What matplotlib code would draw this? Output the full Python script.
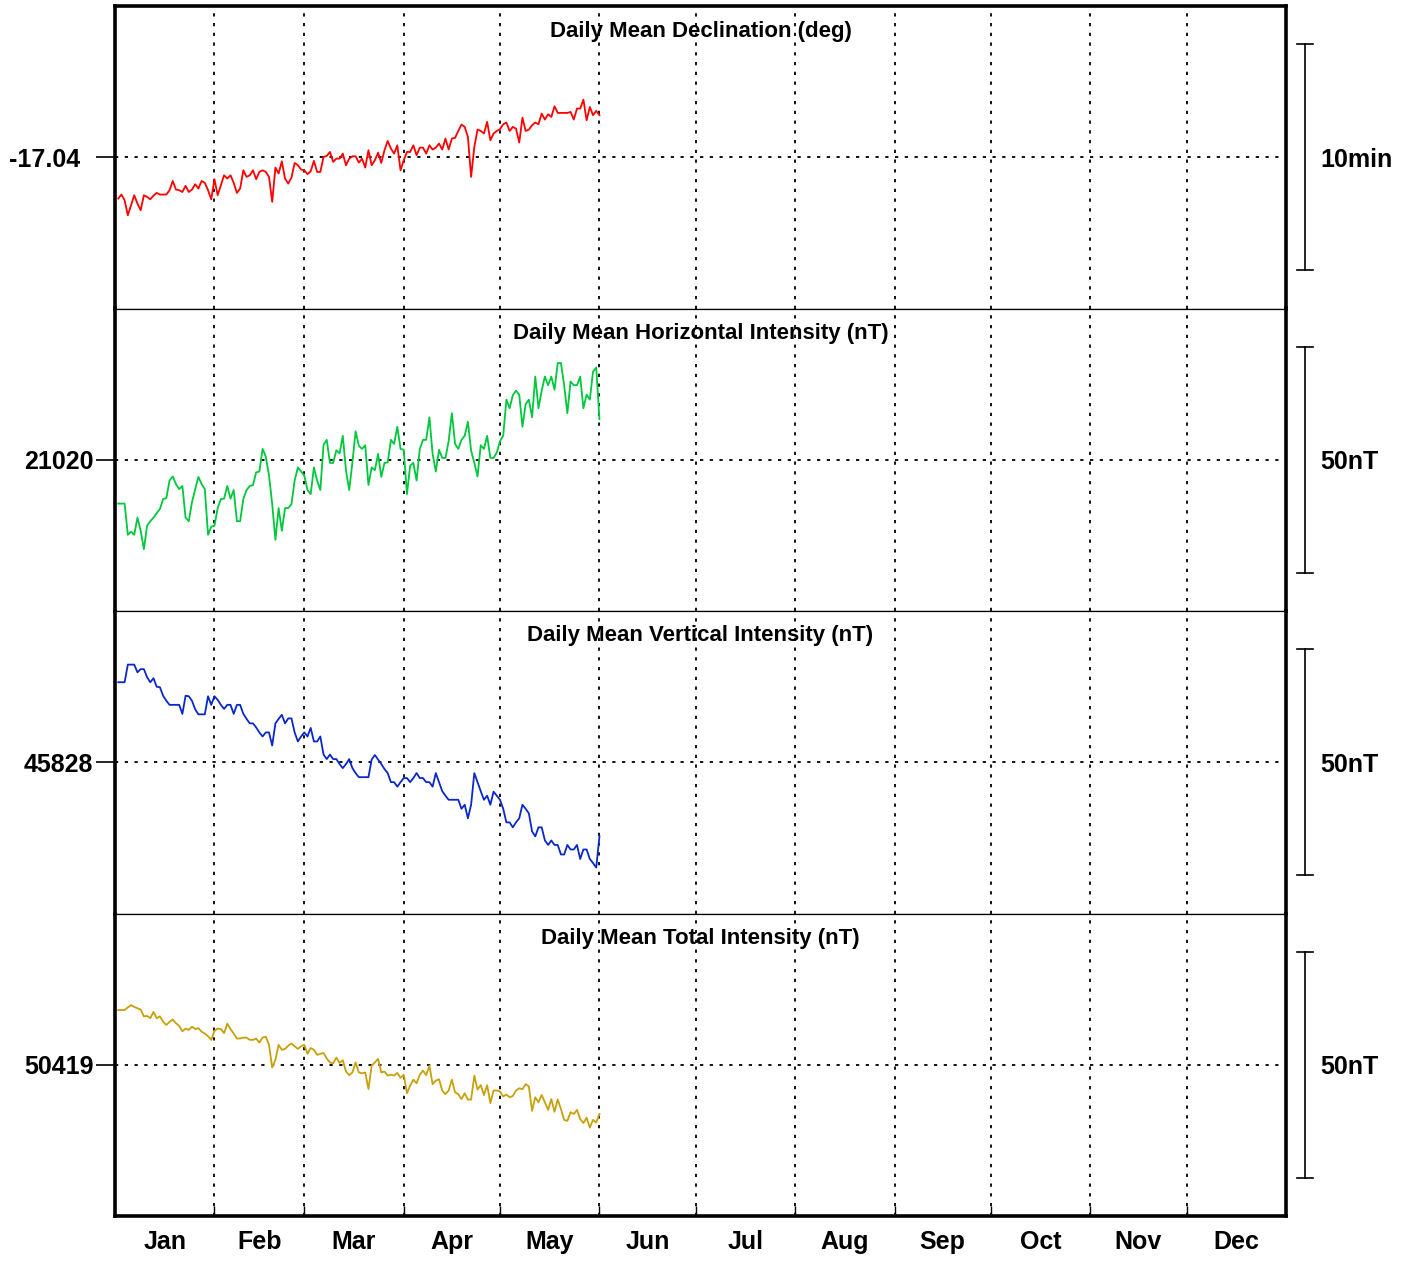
import matplotlib.pyplot as plt
from matplotlib.transforms import blended_transform_factory

plt.rcParams['font.family'] = ['Liberation Sans', 'DejaVu Sans']

# day of year, Jan 1 .. May 31
days = list(range(1, 152))

decl = [-17.0705, -17.0675, -17.0717, -17.0828, -17.0754, -17.0680, -17.0742, -17.0791, -17.0680, -17.0693,
        -17.0710, -17.0683, -17.0663, -17.0675, -17.0675, -17.0675, -17.0643, -17.0575, -17.0638, -17.0643,
        -17.0656, -17.0611, -17.0656, -17.0638, -17.0599, -17.0631, -17.0575, -17.0589, -17.0643, -17.0710,
        -17.0562, -17.0680, -17.0606, -17.0533, -17.0557, -17.0533, -17.0589, -17.0663, -17.0631, -17.0496,
        -17.0545, -17.0533, -17.0496, -17.0562, -17.0508, -17.0496, -17.0508, -17.0545, -17.0729, -17.0476,
        -17.0520, -17.0430, -17.0557, -17.0594, -17.0550, -17.0442, -17.0459, -17.0491, -17.0496, -17.0525,
        -17.0503, -17.0427, -17.0508, -17.0508, -17.0398, -17.0390, -17.0361, -17.0434, -17.0410, -17.0410,
        -17.0373, -17.0459, -17.0410, -17.0393, -17.0393, -17.0439, -17.0410, -17.0476, -17.0348, -17.0459,
        -17.0422, -17.0366, -17.0442, -17.0348, -17.0280, -17.0336, -17.0373, -17.0312, -17.0496, -17.0422,
        -17.0361, -17.0361, -17.0312, -17.0385, -17.0329, -17.0329, -17.0373, -17.0312, -17.0343, -17.0329,
        -17.0299, -17.0343, -17.0262, -17.0343, -17.0262, -17.0257, -17.0206, -17.0159, -17.0176, -17.0250,
        -17.0545, -17.0324, -17.0196, -17.0206, -17.0225, -17.0139, -17.0275, -17.0225, -17.0206, -17.0193,
        -17.0157, -17.0144, -17.0206, -17.0176, -17.0189, -17.0292, -17.0108, -17.0206, -17.0196, -17.0164,
        -17.0144, -17.0157, -17.0078, -17.0122, -17.0083, -17.0103, -17.0024, -17.0073, -17.0073, -17.0073,
        -17.0073, -17.0066, -17.0122, -17.0041, -17.0041, -16.9975, -17.0127, -17.0029, -17.0090, -17.0058,
        -17.0090]

horiz = [21010.3, 21010.3, 21010.3, 21003.4, 21004.1, 21003.4, 21007.2, 21004.3, 21000.2, 21005.4,
         21006.4, 21007.2, 21008.2, 21009.1, 21011.3, 21011.5, 21015.4, 21016.3, 21014.6, 21013.5,
         21014.2, 21007.2, 21006.4, 21010.6, 21013.5, 21016.2, 21014.6, 21013.5, 21003.4, 21005.2,
         21005.4, 21009.3, 21011.3, 21011.4, 21014.2, 21011.4, 21013.3, 21006.4, 21006.4, 21011.3,
         21013.3, 21014.2, 21014.4, 21017.2, 21017.4, 21022.4, 21020.7, 21016.5, 21010.2, 21002.3,
         21009.3, 21004.3, 21009.3, 21009.3, 21010.2, 21015.4, 21018.3, 21017.4, 21016.5, 21013.3,
         21012.4, 21018.3, 21015.4, 21013.3, 21023.3, 21024.4, 21019.3, 21019.3, 21022.1, 21021.4,
         21025.3, 21017.6, 21013.3, 21019.4, 21026.3, 21023.1, 21022.4, 21023.2, 21014.4, 21018.3,
         21017.7, 21021.3, 21016.2, 21019.3, 21019.4, 21024.4, 21023.5, 21027.3, 21022.4, 21022.2,
         21012.4, 21018.7, 21019.3, 21015.4, 21022.4, 21024.4, 21024.4, 21029.4, 21021.3, 21017.4,
         21022.2, 21020.4, 21020.4, 21024.1, 21030.3, 21023.5, 21022.4, 21024.4, 21025.3, 21028.4,
         21022.0, 21019.3, 21016.3, 21023.2, 21022.4, 21025.3, 21020.4, 21020.4, 21021.6, 21024.1,
         21025.3, 21033.3, 21031.4, 21034.3, 21035.3, 21034.4, 21027.3, 21032.3, 21033.3, 21029.4,
         21038.4, 21031.4, 21035.3, 21038.4, 21036.5, 21038.4, 21035.5, 21041.4, 21041.4, 21036.5,
         21030.3, 21037.3, 21036.5, 21036.5, 21038.4, 21031.4, 21034.4, 21033.3, 21039.5, 21040.4,
         21029.0]

vert = [45845.7, 45845.7, 45845.7, 45849.6, 45849.6, 45849.6, 45847.9, 45848.6, 45848.6, 45846.8,
        45845.7, 45846.6, 45844.7, 45844.6, 45842.7, 45841.6, 45840.7, 45840.7, 45840.7, 45840.7,
        45838.7, 45842.7, 45842.6, 45841.6, 45839.7, 45838.6, 45838.6, 45838.6, 45842.6, 45840.7,
        45842.6, 45841.8, 45840.7, 45839.8, 45840.7, 45840.7, 45838.7, 45840.7, 45840.7, 45838.7,
        45837.6, 45836.6, 45836.6, 45835.7, 45834.6, 45833.7, 45834.6, 45834.6, 45831.7, 45836.6,
        45837.6, 45838.5, 45836.6, 45837.7, 45837.7, 45834.6, 45832.6, 45833.7, 45834.6, 45833.7,
        45835.6, 45832.6, 45832.6, 45833.7, 45829.7, 45828.7, 45829.7, 45828.7, 45828.7, 45827.6,
        45826.7, 45827.6, 45828.7, 45826.7, 45825.6, 45824.7, 45824.7, 45824.7, 45824.7, 45828.6,
        45829.6, 45828.6, 45827.6, 45826.5, 45825.6, 45823.6, 45823.6, 45822.6, 45823.6, 45824.5,
        45824.5, 45823.6, 45824.5, 45825.6, 45824.5, 45824.5, 45823.6, 45823.6, 45822.6, 45825.6,
        45823.6, 45821.6, 45820.6, 45819.7, 45819.7, 45819.7, 45819.7, 45817.7, 45818.6, 45815.6,
        45818.6, 45825.6, 45823.6, 45821.6, 45819.7, 45820.6, 45818.6, 45821.5, 45820.6, 45819.7,
        45817.7, 45814.7, 45814.7, 45813.6, 45814.7, 45815.6, 45818.6, 45817.7, 45816.7, 45812.7,
        45811.6, 45813.6, 45813.6, 45810.7, 45809.7, 45810.7, 45809.7, 45809.7, 45807.6, 45807.6,
        45809.7, 45808.7, 45808.7, 45809.7, 45806.6, 45808.7, 45808.7, 45806.6, 45805.7, 45804.7,
        45811.6]

total = [50431.1, 50431.1, 50431.1, 50431.7, 50432.2, 50431.8, 50431.5, 50431.2, 50429.7, 50429.8,
         50429.3, 50430.7, 50429.3, 50429.7, 50428.5, 50427.8, 50428.5, 50429.0, 50428.2, 50427.6,
         50426.4, 50427.0, 50426.7, 50427.4, 50426.9, 50427.1, 50426.3, 50425.9, 50425.3, 50424.5,
         50426.5, 50427.0, 50426.9, 50426.0, 50428.1, 50426.9, 50425.9, 50424.8, 50424.8, 50425.0,
         50425.0, 50424.5, 50424.5, 50424.8, 50423.9, 50425.0, 50425.2, 50423.4, 50418.4, 50420.1,
         50423.4, 50422.3, 50422.5, 50423.2, 50423.7, 50423.1, 50422.5, 50423.1, 50423.4, 50421.4,
         50422.7, 50422.3, 50421.2, 50421.4, 50421.6, 50420.4, 50419.5, 50419.3, 50420.6, 50419.4,
         50420.0, 50417.5, 50416.7, 50417.3, 50419.5, 50417.3, 50417.1, 50417.3, 50413.6, 50418.8,
         50419.5, 50420.3, 50417.3, 50417.5, 50416.6, 50416.8, 50416.6, 50417.2, 50416.1, 50416.8,
         50412.7, 50414.4, 50415.7, 50414.9, 50416.8, 50417.7, 50416.7, 50418.8, 50414.7, 50415.5,
         50415.8, 50413.3, 50412.5, 50413.3, 50415.7, 50412.9, 50412.5, 50411.4, 50412.7, 50411.3,
         50411.3, 50416.6, 50413.5, 50414.5, 50412.3, 50414.5, 50410.5, 50413.3, 50413.3, 50413.1,
         50412.0, 50412.4, 50411.8, 50412.1, 50413.3, 50413.8, 50413.6, 50414.7, 50414.2, 50408.8,
         50411.8, 50410.7, 50412.3, 50410.7, 50409.0, 50411.4, 50408.6, 50411.3, 50409.2, 50406.8,
         50406.6, 50408.5, 50408.1, 50409.0, 50407.0, 50406.1, 50407.3, 50405.1, 50406.8, 50406.2,
         50408.1]

month_bounds = [0, 31, 59, 90, 120, 151, 181, 212, 243, 273, 304, 334, 365]
month_names = ['Jan', 'Feb', 'Mar', 'Apr', 'May', 'Jun',
               'Jul', 'Aug', 'Sep', 'Oct', 'Nov', 'Dec']

# (series, baseline, half of scale bar, bar label, title, colour, baseline label, label pad)
panels = [
    (decl, -17.04, 5 / 60, '10min', 'Daily Mean Declination (deg)', '#ff0000', '-17.04', 11),
    (horiz, 21020, 25, '50nT', 'Daily Mean Horizontal Intensity (nT)', '#00c83c', '21020', 1.5),
    (vert, 45828, 25, '50nT', 'Daily Mean Vertical Intensity (nT)', '#0a28c8', '45828', 1.5),
    (total, 50419, 25, '50nT', 'Daily Mean Total Intensity (nT)', '#c8a00a', '50419', 1.5),
]

W, H = 1408, 1261
fig = plt.figure(figsize=(W / 100, H / 100), dpi=100)

left, right, top, bottom = 115, 1286, 6, 1216
ph = (bottom - top) / 4
dots = (0, (1.8, 3.6))

for i, (vals, base, half, barlab, title, col, blab, pad) in enumerate(panels):
    ax = fig.add_axes([left / W, 1 - (top + ph * (i + 1)) / H, (right - left) / W, ph / H])
    rng = half * (ph / 2) / 113
    ax.set_xlim(0, 365)
    ax.set_ylim(base - rng, base + rng)

    for b in month_bounds[1:-1]:
        ax.axvline(b, color='black', lw=1.3, linestyle=dots, zorder=3)
    ax.axhline(base, color='black', lw=1.3, linestyle=dots, zorder=3)

    ax.plot(days, vals, color=col, lw=1.3, zorder=4)

    ax.text(0.5, 1 - 25 / ph, title, transform=ax.transAxes, ha='center', va='center',
            fontsize=16, fontweight='bold', zorder=1)

    ax.set_yticks([base])
    ax.set_yticklabels([blab], fontsize=18, fontweight='bold')
    ax.tick_params(axis='y', direction='out', length=14, width=1.2, pad=pad)

    # scale bar on the right
    tr = blended_transform_factory(ax.transAxes, ax.transData)
    ax.plot([1.0162, 1.0162], [base - half, base + half], color='black', lw=1.2,
            transform=tr, clip_on=False)
    for yb in (base - half, base + half):
        ax.plot([1.0094, 1.0231], [yb, yb], color='black', lw=1.2, transform=tr, clip_on=False)
    ax.text(1.029, base, barlab, transform=tr, ha='left', va='center_baseline',
            fontsize=18, fontweight='bold')

    for s in ax.spines.values():
        s.set_linewidth(2.6)
        s.set_color('black')
    if i > 0:
        ax.spines['top'].set_linewidth(0.9)
    if i < 3:
        ax.spines['bottom'].set_linewidth(0.9)

    ax.set_xticks(month_bounds[1:-1])
    mids = [(a + b) / 2 for a, b in zip(month_bounds[:-1], month_bounds[1:])]
    ax.set_xticks(mids, minor=True)
    if i == 3:
        ax.set_xticklabels([])
        ax.set_xticklabels(month_names, minor=True, fontsize=18, fontweight='bold')
        ax.tick_params(axis='x', which='major', direction='in', length=7, width=1)
        ax.tick_params(axis='x', which='minor', length=0, pad=10)
    else:
        ax.tick_params(axis='x', which='both', length=0, labelbottom=False)

fig.savefig('out.png', dpi=100)
